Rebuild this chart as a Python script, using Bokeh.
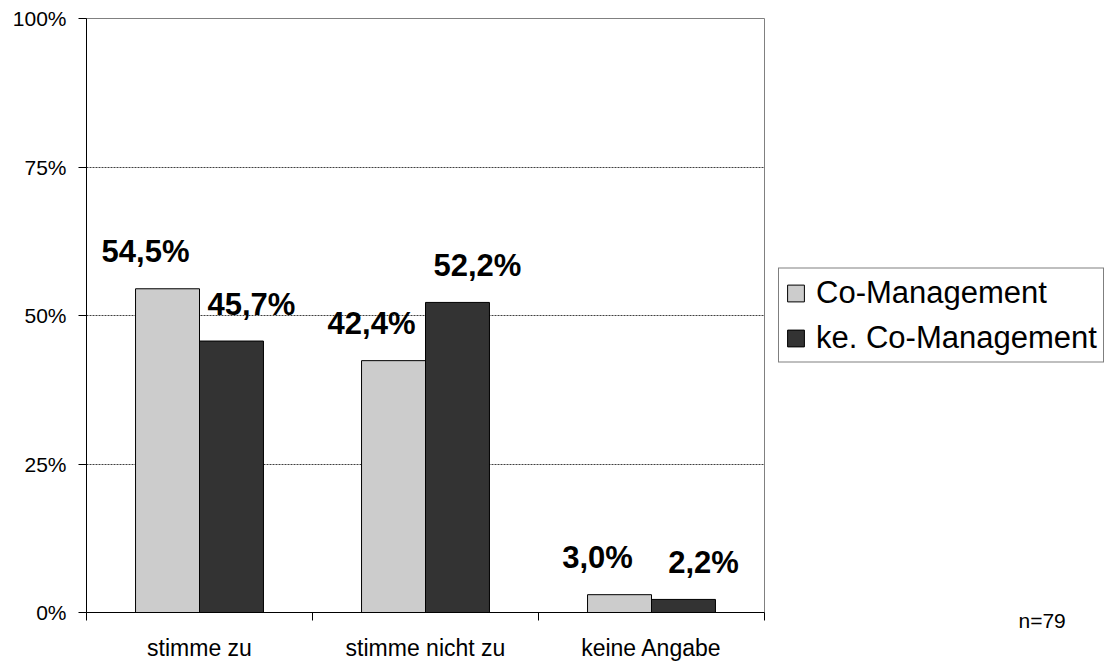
import numpy as np
from bokeh.plotting import figure
from bokeh.models import (ColumnDataSource, Range1d, FixedTicker, PrintfTickFormatter,
                          Legend, LegendItem, Title)
from bokeh.transform import dodge
from bokeh.core.properties import value
from bokeh.embed import file_html
from bokeh.resources import INLINE

# ---- data ----
categories = ["stimme zu", "stimme nicht zu", "keine Angabe"]
co_management = [54.5, 42.4, 3.0]
ke_co_management = [45.7, 52.2, 2.2]
series_names = ["Co-Management", "ke. Co-Management"]
y_ticks = [0, 25, 50, 75, 100]
note_text = "n=79"


def fmt(v):
    return f"{v:.1f}".replace(".", ",") + "%"


x_pos = np.arange(len(categories)) + 0.5
src = ColumnDataSource(dict(
    x=x_pos,
    a=co_management,
    b=ke_co_management,
    la=[fmt(v) for v in co_management],
    lb=[fmt(v) for v in ke_co_management],
))

FONT = "Liberation Sans"
LIGHT = "#CCCCCC"
DARK = "#333333"
BAR_W = 0.283
OFF = BAR_W / 2

p = figure(frame_width=678, frame_height=594,
           min_border_left=86, min_border_top=18, min_border_bottom=44, min_border_right=344,
           x_range=Range1d(0, len(categories)), y_range=Range1d(0, 100),
           output_backend="svg", toolbar_location=None)

p.background_fill_color = "white"
p.border_fill_color = "white"
p.outline_line_color = "#808080"
p.outline_line_width = 1

r1 = p.vbar(x=dodge("x", -OFF), top="a", width=BAR_W, source=src,
            fill_color=LIGHT, line_color="black", line_width=1)
r2 = p.vbar(x=dodge("x", OFF), top="b", width=BAR_W, source=src,
            fill_color=DARK, line_color="black", line_width=1)

p.text(x=dodge("x", -OFF), y="a", text="la", source=src,
       x_offset=-22, y_offset=-37, text_align="center", text_baseline="alphabetic",
       text_font=value(FONT), text_font_style="bold", text_font_size="31px", text_color="black")
p.text(x=dodge("x", OFF), y="b", text="lb", source=src,
       x_offset=20, y_offset=-37, text_align="center", text_baseline="alphabetic",
       text_font=value(FONT), text_font_style="bold", text_font_size="31px", text_color="black")

# grid
p.xgrid.visible = False
p.ygrid.ticker = FixedTicker(ticks=y_ticks[1:-1])
p.ygrid.grid_line_color = "#404040"
p.ygrid.grid_line_dash = "2 1"
p.ygrid.grid_line_width = 1

# x axis
xa = p.xaxis[0]
xa.ticker = FixedTicker(ticks=list(x_pos), minor_ticks=list(range(len(categories) + 1)))
xa.major_label_overrides = {float(xv): c for xv, c in zip(x_pos, categories)}
xa.major_tick_line_color = None
xa.minor_tick_line_color = "black"
xa.minor_tick_out = 8
xa.minor_tick_in = 0
xa.axis_line_color = "black"
xa.major_label_text_font = FONT
xa.major_label_text_font_size = "23px"
xa.major_label_text_color = "black"
xa.major_label_standoff = 14

# y axis
ya = p.yaxis[0]
ya.ticker = FixedTicker(ticks=y_ticks)
ya.formatter = PrintfTickFormatter(format="%d%%")
ya.major_tick_out = 8
ya.major_tick_in = 0
ya.major_tick_line_color = "black"
ya.minor_tick_line_color = None
ya.axis_line_color = "black"
ya.major_label_text_font = FONT
ya.major_label_text_font_size = "21px"
ya.major_label_text_color = "black"
ya.major_label_standoff = 12

# legend
legend = Legend(items=[LegendItem(label=series_names[0], renderers=[r1]),
                       LegendItem(label=series_names[1], renderers=[r2])],
                location="center_left", margin=14, padding=6, spacing=9,
                glyph_width=21, glyph_height=21, label_height=30, label_standoff=10,
                label_text_font=FONT, label_text_font_size="31px", label_text_color="black",
                border_line_color="black", border_line_width=1,
                background_fill_color="white", background_fill_alpha=1)
p.add_layout(legend, "right")

# note "n=79" (placed in the bottom panel, shifted right)
note = Title(text=note_text, align="left", offset=932, standoff=-110, vertical_align="top",
             text_font=FONT, text_font_size="21px", text_font_style="normal",
             text_color="black")
p.add_layout(note, "below")

open("out.html", "w").write(file_html(p, INLINE))
